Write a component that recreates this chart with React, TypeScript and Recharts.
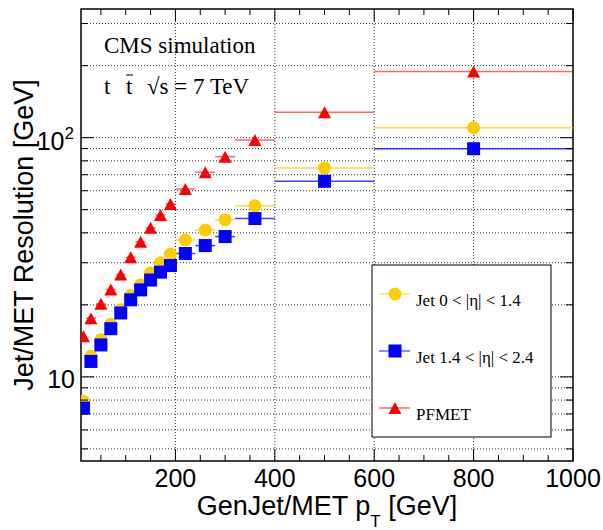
import React from "react";
import { ComposedChart, Scatter, XAxis, YAxis, CartesianGrid, ErrorBar, Customized } from "recharts";

// bin centres and half widths in GenJet/MET pT [GeV]
const binCenters = [15, 30, 50, 70, 90, 110, 130, 150, 170, 190, 220, 260, 300, 360, 500, 800];
const binHalfWidths = [5, 10, 10, 10, 10, 10, 10, 10, 10, 10, 20, 20, 20, 40, 100, 200];

// resolution [GeV]
const jetBarrel = [7.9, 12.2, 14.3, 16.6, 19.1, 21.9, 24.3, 27.2, 30.0, 32.6, 37.3, 41.1, 45.4, 51.9, 74.6, 110.1];
const jetEndcap = [7.4, 11.6, 13.6, 15.9, 18.5, 21.0, 23.1, 25.4, 27.4, 29.2, 32.8, 35.4, 38.6, 45.9, 65.7, 89.9];
const pfMet = [14.8, 17.6, 20.2, 23.2, 26.8, 31.6, 36.7, 42.0, 47.5, 52.8, 61.0, 71.7, 83.3, 97.8, 127.7, 188.9];

const xTicks = [50, 100, 150, 200, 250, 300, 350, 400, 450, 500, 550, 600, 650, 700, 750, 800, 850, 900, 950, 1000];
const xLabelTicks = [200, 400, 600, 800, 1000];
const xGridLines = [200, 400, 600, 800];
const yTicks = [5, 6, 7, 8, 9, 10, 20, 30, 40, 50, 60, 70, 80, 90, 100, 200, 300];
const yMajorTicks = [10, 100];

const YELLOW = "#ffcc00";
const BLUE = "#0000ff";
const RED = "#ff0000";
const SANS = "'Liberation Sans', Arial, sans-serif";
const SERIF = "'Liberation Serif', 'Times New Roman', serif";

const LEFT = 81, RIGHT = 573, TOP = 9, BOTTOM = 461;

const rows = (vals: number[]) => binCenters.map((x, i) => ({ x, y: vals[i], ex: binHalfWidths[i] }));

const Dot = ({ cx, cy }: any) => <circle cx={cx} cy={cy} r={6.5} fill={YELLOW} />;
const Square = ({ cx, cy }: any) => <rect x={cx - 6.5} y={cy - 6.5} width={13} height={13} fill={BLUE} />;
const Triangle = ({ cx, cy }: any) => (
  <polygon points={`${cx},${cy - 6} ${cx - 6.5},${cy + 6} ${cx + 6.5},${cy + 6}`} fill={RED} />
);

const XTick = ({ x, payload }: any) => {
  const major = payload.value % 200 === 0;
  const len = major ? 12 : 6;
  return (
    <g>
      <line x1={x} x2={x} y1={BOTTOM} y2={BOTTOM - len} stroke="#000" />
      <line x1={x} x2={x} y1={TOP} y2={TOP + len} stroke="#000" />
      {xLabelTicks.includes(payload.value) && (
        <text x={x} y={487} textAnchor="middle" fontSize={25} fontFamily={SANS} fill="#000">
          {payload.value}
        </text>
      )}
    </g>
  );
};

const YTick = ({ y, payload }: any) => {
  const v = payload.value;
  const len = yMajorTicks.includes(v) ? 13 : 7;
  return (
    <g>
      <line x1={LEFT} x2={LEFT + len} y1={y} y2={y} stroke="#000" />
      <line x1={RIGHT} x2={RIGHT - len} y1={y} y2={y} stroke="#000" />
      {v === 10 && (
        <text x={75} y={y + 11} textAnchor="end" fontSize={25} fontFamily={SANS} fill="#000">10</text>
      )}
      {v === 100 && (
        <text x={74} y={y + 12} textAnchor="end" fontSize={25} fontFamily={SANS} fill="#000">
          10<tspan dy={-11} fontSize={17}>2</tspan>
        </text>
      )}
    </g>
  );
};

const Frame = () => (
  <rect x={LEFT} y={TOP} width={RIGHT - LEFT} height={BOTTOM - TOP} fill="none" stroke="#000" strokeWidth={1.5} />
);

const Titles = () => (
  <g fill="#000">
    <text x={327} y={515} textAnchor="middle" fontSize={27} fontFamily={SANS}>
      GenJet/MET p<tspan dy={12} fontSize={17}>T</tspan>
      <tspan dy={-12}> [GeV]</tspan>
    </text>
    <text x={33} y={235} textAnchor="middle" fontSize={27} fontFamily={SANS} transform="rotate(-90 33 235)">
      Jet/MET Resolution [GeV]
    </text>
    <text x={104} y={53} fontSize={23} fontFamily={SERIF}>CMS simulation</text>
    <text x={104} y={94} fontSize={23} fontFamily={SERIF}>t</text>
    <text x={126} y={94} fontSize={23} fontFamily={SERIF}>t</text>
    <line x1={126} x2={133} y1={75} y2={75} stroke="#000" strokeWidth={1} />
    <text x={147} y={94} fontSize={23} fontFamily={SERIF}>√s = 7 TeV</text>
  </g>
);

const legendItems = [
  { label: "Jet 0 < |η| < 1.4", color: YELLOW, Marker: Dot, y: 294 },
  { label: "Jet 1.4 < |η| < 2.4", color: BLUE, Marker: Square, y: 351 },
  { label: "PFMET", color: RED, Marker: Triangle, y: 408 },
];

const LegendBox = () => (
  <g>
    <rect x={372} y={265} width={179} height={172} fill="#fff" stroke="#000" strokeWidth={1} />
    {legendItems.map(({ label, color, Marker, y }) => (
      <g key={label}>
        <line x1={379} x2={410} y1={y} y2={y} stroke={color} strokeWidth={1.5} strokeOpacity={0.6} />
        <Marker cx={395} cy={y} />
        <text x={416} y={y + 12} fontSize={17} fontFamily={SERIF} fill="#000">{label}</text>
      </g>
    ))}
  </g>
);

export default function App() {
  return (
    <div style={{ position: "absolute", left: 0, top: 0, background: "#fff" }}>
      <ComposedChart width={603} height={530} margin={{ top: TOP, right: 603 - RIGHT, bottom: 29, left: 0 }}>
        <CartesianGrid
          stroke="#333"
          strokeDasharray="1 2"
          verticalValues={xGridLines}
          horizontalValues={yTicks}
        />
        <XAxis
          dataKey="x"
          type="number"
          domain={[10, 1000]}
          allowDataOverflow
          ticks={xTicks}
          interval={0}
          height={40}
          axisLine={false}
          tickLine={false}
          tick={<XTick />}
        />
        <YAxis
          type="number"
          scale="log"
          domain={[4.45, 345]}
          allowDataOverflow
          ticks={yTicks}
          interval={0}
          width={LEFT}
          axisLine={false}
          tickLine={false}
          tick={<YTick />}
        />
        <Scatter data={rows(jetBarrel)} dataKey="y" shape={<Dot />} isAnimationActive={false}>
          <ErrorBar dataKey="ex" direction="x" width={0} stroke={YELLOW} strokeWidth={1.5} strokeOpacity={0.75} isAnimationActive={false} />
        </Scatter>
        <Scatter data={rows(jetEndcap)} dataKey="y" shape={<Square />} isAnimationActive={false}>
          <ErrorBar dataKey="ex" direction="x" width={0} stroke={BLUE} strokeWidth={1.5} strokeOpacity={0.75} isAnimationActive={false} />
        </Scatter>
        <Scatter data={rows(pfMet)} dataKey="y" shape={<Triangle />} isAnimationActive={false}>
          <ErrorBar dataKey="ex" direction="x" width={0} stroke={RED} strokeWidth={1.5} strokeOpacity={0.6} isAnimationActive={false} />
        </Scatter>
        <Customized component={Frame} />
        <Customized component={LegendBox} />
        <Customized component={Titles} />
      </ComposedChart>
    </div>
  );
}
